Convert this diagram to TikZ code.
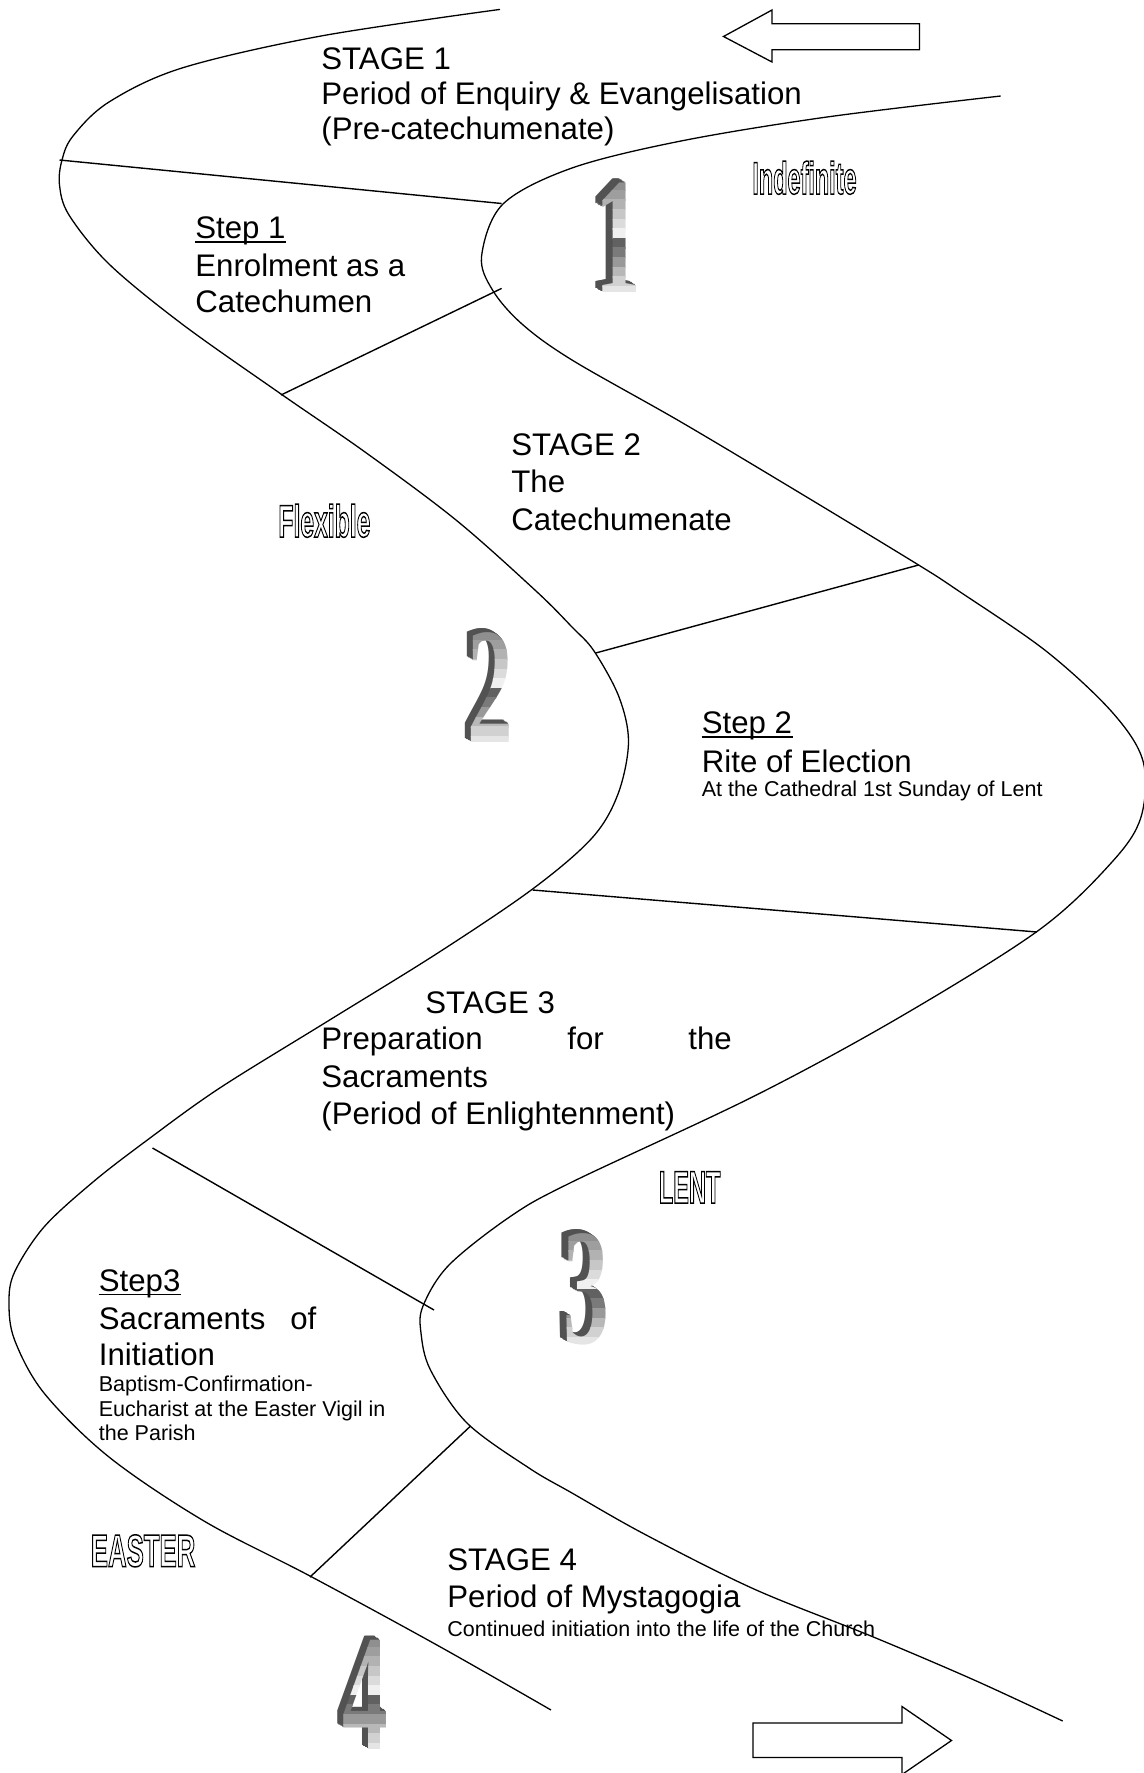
\documentclass[tikz,border=0pt]{standalone}
\usepackage{fontspec}
\setmainfont{Liberation Sans}
\newfontfamily\numfont{Liberation Serif}
\usepackage{graphicx}
\newcommand\outl[1]{\special{pdf:literal direct 1 Tr 0.75 w}#1\special{pdf:literal direct 0 Tr}}
\tikzset{
  road/.style={line width=0.65pt, line join=round},
  divider/.style={line width=0.7pt},
  bigtext/.style={anchor=base west, inner sep=0pt, font=\fontsize{15.6}{18.25}\selectfont},
  smalltext/.style={anchor=base west, inner sep=0pt, font=\fontsize{10.75}{12.25}\selectfont},
  wordart/.style={anchor=base west, inner sep=0pt, font=\bfseries\fontsize{22.75}{24}\selectfont},
  numstyle/.style={anchor=base, inner sep=0pt, font=\numfont\bfseries\fontsize{83}{90}\selectfont},
  blockarrow/.style={draw, line width=0.65pt, fill=white, line join=miter},
  ulinestyle/.style={line width=0.9pt},
}
\newcommand\underl[1]{\draw[ulinestyle] ([yshift=-1.75pt]#1.base west) -- ([yshift=-1.75pt]#1.base east);}
\newcommand\metalnum[4]{%
  \coordinate (#1) at (#2,#3);
  \foreach \d in {8,7,6,5,4,3,2,1}{
    \node[numstyle, text=black!68] at ({#2-\d*0.8},{#3-\d*0.5}) {\scalebox{0.55}[1]{#4}};
  }
  \foreach \k [count=\i from 0] in {50,44,38,30,22,14,6,62,52,40,28,18,10}{
    \begin{scope}
      \clip ({#2-45},{#3-121+\i*9.6}) rectangle ({#2+45},{#3-121+\i*9.6+10});
      \node[numstyle, text=black!\k] at (#2,#3) {\scalebox{0.55}[1]{#4}};
    \end{scope}
  }
}
\begin{document}
\begin{tikzpicture}[x=0.5pt,y=-0.5pt]
\fill[white] (0,0) rectangle (1144,1773);
\useasboundingbox (0,0) rectangle (1144,1773);

% road edges
\draw[road] plot[smooth, tension=0.55] coordinates {
 (500,9.4) (321,36) (182,68) (109,102) (73,136) (62,160) (59.5,185) (69,215)
 (109,264) (182,324) (281,394) (365,452) (456,520) (536,591) (572,627) (594,651)
 (619,697) (628.5,742) (618,794) (592,838) (532.6,889) (437.8,953)
 (328,1021) (219,1088.5) (146,1141) (93,1182) (44,1227) (14.6,1272) (9,1302.6)
 (14.6,1340) (44,1393) (109,1457) (204,1521) (310,1576) (438,1645.6) (551,1710)};
\draw[road] plot[smooth, tension=0.55] coordinates {
 (1000.7,96) (827,117) (681,141) (572,168) (503,204) (481.6,256) (492.5,290)
 (522,324) (572,360) (681,422) (800,493) (918.6,565) (958.7,591) (1046,651)
 (1112,712) (1143,761) (1141,817) (1112,862) (1039,930) (900,1017) (754.4,1096)
 (572,1182) (511,1216) (449,1265) (423,1306) (421,1333) (430.5,1370) (467,1423)
 (529,1468) (572,1493) (645,1534.4) (754,1589) (871,1636) (973,1679.5) (1062.7,1721)};

% dividers
\coordinate (d1a) at (59.5,160);   \coordinate (d1b) at (501.6,203.5);
\coordinate (d2a) at (501.6,288.4); \coordinate (d2b) at (281,395);
\coordinate (d3a) at (918.6,565);  \coordinate (d3b) at (595.7,653);
\coordinate (d4a) at (532.6,890);  \coordinate (d4b) at (1037,932);
\coordinate (d5a) at (152.5,1148); \coordinate (d5b) at (434,1310);
\coordinate (d6a) at (470.6,1426); \coordinate (d6b) at (310,1577);
\draw[divider] (d1a) -- (d1b);
\draw[divider] (d2a) -- (d2b);
\draw[divider] (d3a) -- (d3b);
\draw[divider] (d4a) -- (d4b);
\draw[divider] (d5a) -- (d5b);
\draw[divider] (d6a) -- (d6b);

% block arrows
\draw[blockarrow] (723.5,36.5) -- (772,10) -- (772,23.7) -- (919.5,23.7) -- (919.5,49.8)
  -- (772,49.8) -- (772,62) -- cycle;
\draw[blockarrow] (951.5,1740.5) -- (902,1706.5) -- (902,1723) -- (753,1723) -- (753,1757.5)
  -- (902,1757.5) -- (902,1774.5) -- cycle;

% numerals
\metalnum{n1}{618}{292}{1}
\metalnum{n2}{490.5}{742}{2}
\metalnum{n3}{586}{1343}{3}
\metalnum{n4}{365.5}{1749}{4}

% word art
\node[wordart] (w1) at (752,194) {\scalebox{0.515}[1]{\outl{Indefinite}}};
\node[wordart] (w2) at (278,537) {\scalebox{0.543}[1]{\outl{Flexible}}};
\node[wordart] (w3) at (658.5,1203) {\scalebox{0.518}[1]{\outl{LENT}}};
\node[wordart] (w4) at (90.5,1566.5) {\scalebox{0.566}[1]{\outl{EASTER}}};

% texts
\node[bigtext] (s1a) at (321,69) {STAGE 1};
\node[bigtext] (s1b) at (321,104.8) {Period of Enquiry \& Evangelisation};
\node[bigtext] (s1c) at (321,139.5) {(Pre-catechumenate)};
\node[bigtext] (st1a) at (195,238.6) {Step 1};
\underl{st1a}
\node[bigtext] (st1b) at (195,276) {Enrolment as a};
\node[bigtext] (st1c) at (195,312) {Catechumen};
\node[bigtext] (s2a) at (511,455) {STAGE 2};
\node[bigtext] (s2b) at (511,492.5) {The};
\node[bigtext] (s2c) at (511,530) {Catechumenate};
\node[bigtext] (st2a) at (701.5,733.5) {Step 2};
\underl{st2a}
\node[bigtext] (st2b) at (701.5,772) {Rite of Election};
\node[smalltext] (st2c) at (701.5,796) {At the Cathedral 1st Sunday of Lent};
\node[bigtext] (s3a) at (425,1013) {STAGE 3};
\node[bigtext] (s3b) at (321,1049.5) {Preparation};
\node[bigtext] (s3c) at (567,1049.5) {for};
\node[bigtext] (s3d) at (688,1049.5) {the};
\node[bigtext] (s3e) at (321,1087) {Sacraments};
\node[bigtext] (s3f) at (321,1124) {(Period of Enlightenment)};
\node[bigtext] (st3a) at (98.5,1291) {Step3};
\underl{st3a}
\node[bigtext] (st3b) at (98.5,1329) {Sacraments};
\node[bigtext] (st3c) at (290,1329) {of};
\node[bigtext] (st3d) at (98.5,1365) {Initiation};
\node[smalltext] (st3e) at (98.5,1391) {Baptism-Confirmation-};
\node[smalltext] (st3f) at (98.5,1416) {Eucharist at the Easter Vigil in};
\node[smalltext] (st3g) at (98.5,1440) {the Parish};
\node[bigtext] (s4a) at (447,1570) {STAGE 4};
\node[bigtext] (s4b) at (447,1607) {Period of Mystagogia};
\node[smalltext] (s4c) at (447,1636) {Continued initiation into the life of the Church};
\end{tikzpicture}
\end{document}
